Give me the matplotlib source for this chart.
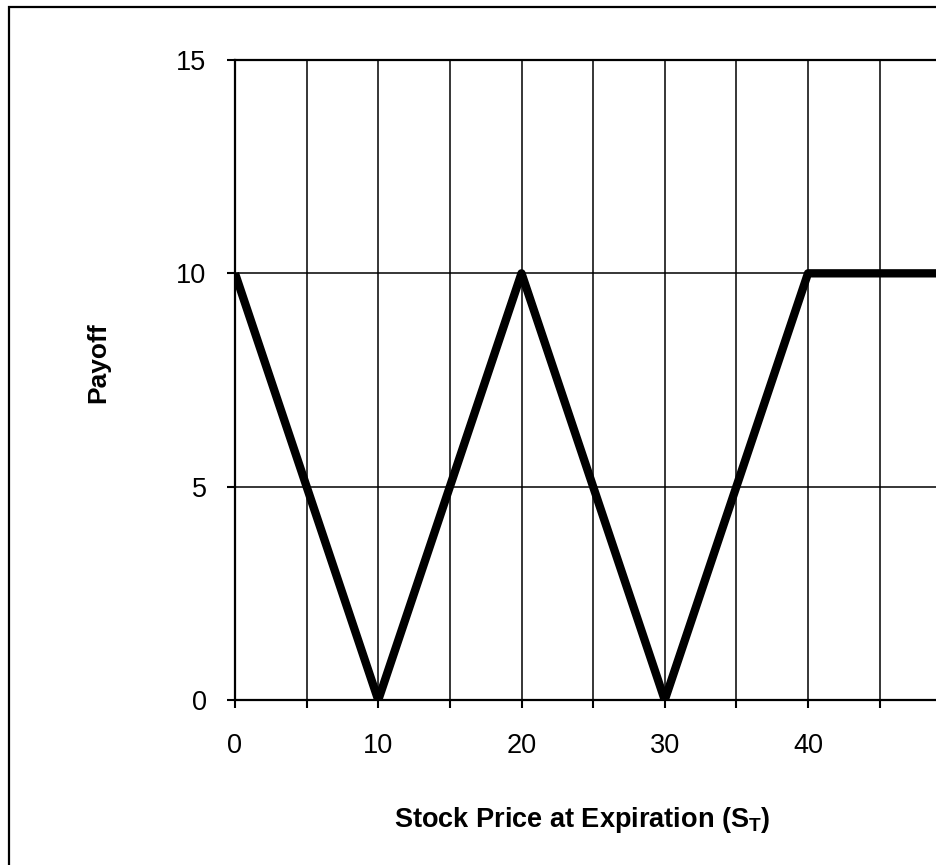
import matplotlib
matplotlib.use("Agg")
import matplotlib.pyplot as plt
from matplotlib.patches import Rectangle

# payoff data
stock_price = [0, 10, 20, 30, 40, 50]
payoff = [10, 0, 10, 0, 10, 10]
x_ticks = [0, 5, 10, 15, 20, 25, 30, 35, 40, 45]
x_tick_labels = ["0", "", "10", "", "20", "", "30", "", "40", ""]
y_ticks = [0, 5, 10, 15]
y_tick_labels = ["0", "5", "10", "15"]

plt.rcParams["font.family"] = ["Liberation Sans", "DejaVu Sans"]
plt.rcParams["mathtext.fontset"] = "custom"
plt.rcParams["mathtext.bf"] = "Liberation Sans:bold"
plt.rcParams["mathtext.rm"] = "Liberation Sans"

W, H = 936, 865
fig = plt.figure(figsize=(W / 100, H / 100), dpi=100)
fig.patch.set_facecolor("white")

# outer chart border (cropped on right and bottom)
fig.add_artist(Rectangle((8.5 / W, -0.1), 1.2, 1.1 - 7.5 / H, transform=fig.transFigure,
                         fill=False, edgecolor="black", linewidth=1.6))

ax = fig.add_axes([235 / W, (H - 700) / H, 716.25 / W, 640 / H])
ax.plot(stock_price, payoff, color="black", linewidth=6, solid_capstyle="butt", zorder=3)

ax.set_xlim(0, 50)
ax.set_ylim(0, 15)
ax.set_xticks(x_ticks)
ax.set_xticklabels(x_tick_labels)
ax.set_yticks(y_ticks)
ax.set_yticklabels(y_tick_labels)
ax.grid(True, color="black", linewidth=1.1)
ax.set_axisbelow(True)

for side in ["left", "bottom", "top"]:
    ax.spines[side].set_linewidth(1.6)
ax.spines["right"].set_visible(False)

ax.tick_params(axis="x", direction="out", length=5.5, width=1.5, pad=18, labelsize=19.5)
ax.tick_params(axis="y", direction="out", length=5.5, width=1.5, pad=15, labelsize=19.5)

ax.set_xlabel(r"Stock Price at Expiration ($\mathbf{S_T}$)", fontsize=19.5, fontweight="bold")
ax.set_ylabel("Payoff", fontsize=19, fontweight="bold")
ax.xaxis.set_label_coords((582 - 235) / 716.25, -(820 - 700) / 640, transform=ax.transAxes)
ax.yaxis.set_label_coords((98 - 235) / 716.25, (700 - 363) / 640, transform=ax.transAxes)
ax.xaxis.label.set_va("center")
ax.yaxis.label.set_va("center")

fig.savefig("out.png", dpi=100, facecolor="white")
